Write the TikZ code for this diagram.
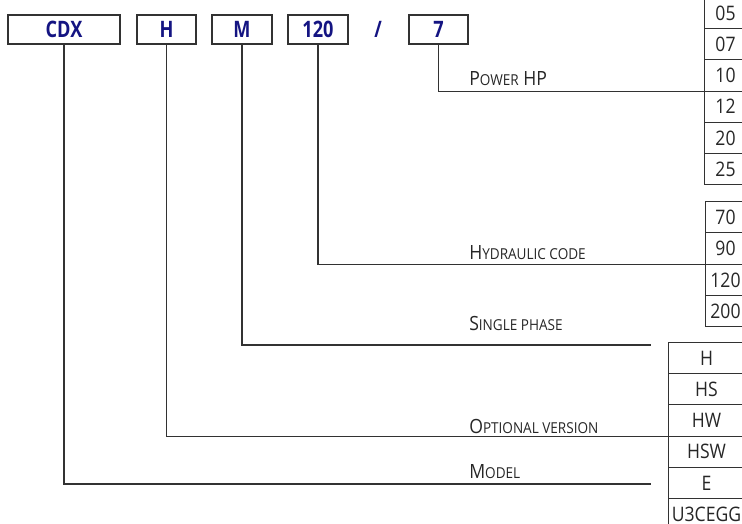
\documentclass[tikz,border=0pt]{standalone}
\usepackage{fontspec}
\setmainfont{Open Sans}
\newfontfamily\codefont[FakeStretch=0.8]{Open Sans}
\newfontfamily\cellfont[FakeStretch=0.88]{Open Sans}
\newfontfamily\labelfont[FakeStretch=0.9]{Open Sans}
\usepackage{tikz}
\usepackage{xcolor}
\definecolor{codeblue}{RGB}{20,20,130}
\definecolor{linegray}{RGB}{50,50,50}
\newcommand{\smc}[1]{{\fontsize{11.3}{13}\selectfont #1}}
\tikzset{
  codebox/.style={draw=linegray, line width=0.8pt, minimum height=21.75pt, inner sep=0pt,
    font=\codefont\bfseries\fontsize{17}{20}\selectfont, text=codeblue},
  cell/.style={draw=linegray, line width=0.75pt, minimum height=23.4pt, inner sep=0pt,
    anchor=north west, font=\cellfont\fontsize{15}{18}\selectfont, text=black!85},
  label/.style={anchor=base west, inner sep=0pt, font=\labelfont\fontsize{14.7}{17}\selectfont, text=black!85},
  conn/.style={draw=linegray, line width=0.8pt}
}
\begin{document}
\begin{tikzpicture}[x=0.75pt,y=0.75pt,yscale=-1,xscale=1]
\useasboundingbox (0,0) rectangle (742,524);

%Code boxes
\node [codebox, minimum width=84pt] (model) at (64,29.5) {CDX};
\node [codebox, minimum width=44.25pt] (opt) at (166.5,29.5) {H};
\node [codebox, minimum width=45pt] (phase) at (242,29.5) {M};
\node [codebox, minimum width=45pt] (code) at (318,29.5) {120};
\node [codebox, draw=none] (slash) at (378,29.5) {/};
\node [codebox, minimum width=44.25pt] (seven) at (438.5,29.5) {7};

%Table: power
\node [cell, minimum width=31.5pt] (hp1) at (704,-3) {05};
\node [cell, minimum width=31.5pt] (hp2) at (704,28.2) {07};
\node [cell, minimum width=31.5pt] (hp3) at (704,59.4) {10};
\node [cell, minimum width=31.5pt] (hp4) at (704,90.6) {12};
\node [cell, minimum width=31.5pt] (hp5) at (704,121.8) {20};
\node [cell, minimum width=31.5pt] (hp6) at (704,153) {25};

%Table: hydraulic code
\node [cell, minimum width=30pt] (hy1) at (705,201) {70};
\node [cell, minimum width=30pt] (hy2) at (705,232.4) {90};
\node [cell, minimum width=30pt] (hy3) at (705,263.8) {120};
\node [cell, minimum width=30pt] (hy4) at (705,295.2) {200};

%Table: version
\node [cell, minimum width=57pt] (ov1) at (668,342) {H};
\node [cell, minimum width=57pt] (ov2) at (668,373.2) {HS};
\node [cell, minimum width=57pt] (ov3) at (668,404.4) {HW};
\node [cell, minimum width=57pt] (ov4) at (668,435.6) {HSW};
\node [cell, minimum width=57pt] (ov5) at (668,466.8) {E};
\node [cell, minimum width=57pt] (ov6) at (668,498) {U3CEGG};

%Free line ends
\coordinate (phaseend) at (651,345);
\coordinate (modelend) at (651,484);

%Straight Lines
\draw [conn] (seven.south) |- (hp3.south west);
\draw [conn] (code.south) |- (hy2.south west);
\draw [conn] (phase.south) |- (phaseend);
\draw [conn] (opt.south) |- (ov3.south west);
\draw [conn] (model.south) |- (modelend);

% Text Node
\node [label] (hplabel) at (469,86) {P\smc{OWER} HP};
% Text Node
\node [label] (hylabel) at (469,259) {H\smc{YDRAULIC CODE}};
% Text Node
\node [label] (splabel) at (469,330) {S\smc{INGLE PHASE}};
% Text Node
\node [label] (ovlabel) at (469,433) {O\smc{PTIONAL VERSION}};
% Text Node
\node [label] (mdlabel) at (469,478) {M\smc{ODEL}};

\end{tikzpicture}
\end{document}
